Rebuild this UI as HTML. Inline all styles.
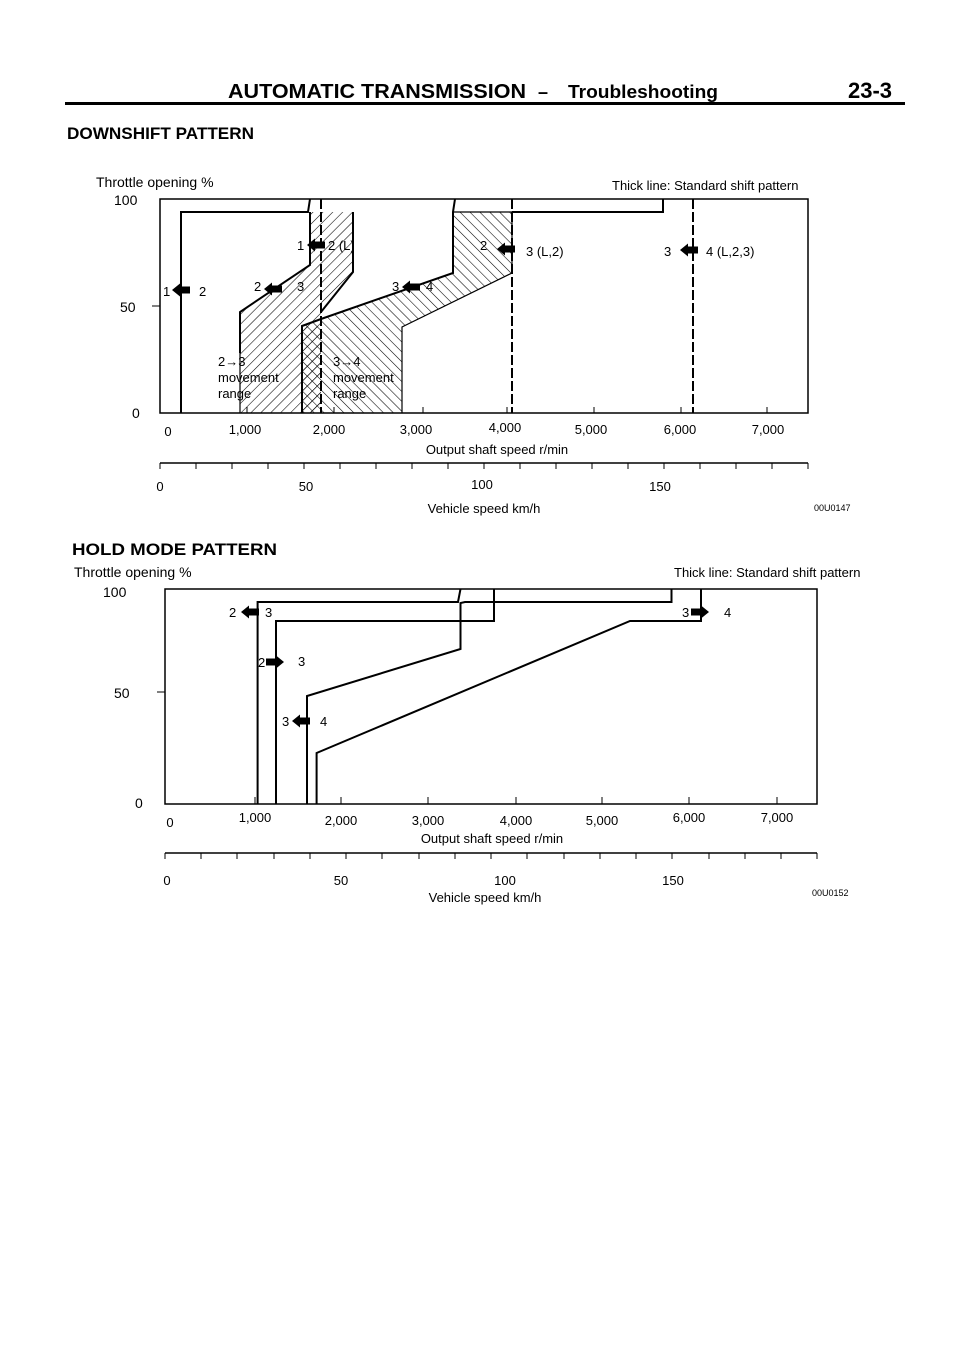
<!DOCTYPE html>
<html><head><meta charset="utf-8"><style>
html,body{margin:0;padding:0;background:#fff}
svg{display:block}
text{font-family:"Liberation Sans",sans-serif;fill:#000}
</style></head><body>
<svg width="960" height="1358" viewBox="0 0 960 1358" xmlns="http://www.w3.org/2000/svg">
<defs>
<pattern id="hf" width="7" height="7" patternUnits="userSpaceOnUse" patternTransform="rotate(45)"><line x1="0" y1="0" x2="0" y2="7" stroke="#000" stroke-width="1.1"/></pattern>
<pattern id="hb" width="7" height="7" patternUnits="userSpaceOnUse" patternTransform="rotate(-45)"><line x1="0" y1="0" x2="0" y2="7" stroke="#000" stroke-width="1.1"/></pattern>
<path id="la" d="M-9,0 L-1,-6.5 L-1,-3.5 L9,-3.5 L9,3.5 L-1,3.5 L-1,6.5 Z" fill="#000"/>
<path id="ra" d="M9,0 L1,-6.5 L1,-3.5 L-9,-3.5 L-9,3.5 L1,3.5 L1,6.5 Z" fill="#000"/>
</defs>
<!-- header -->
<text x="228" y="98" font-size="20" font-weight="bold" textLength="298" lengthAdjust="spacingAndGlyphs">AUTOMATIC TRANSMISSION</text>
<text x="538" y="98" font-size="18" font-weight="bold">–</text>
<text x="568" y="98" font-size="18" font-weight="bold" textLength="150" lengthAdjust="spacingAndGlyphs">Troubleshooting</text>
<text x="848" y="98" font-size="22" font-weight="bold">23-3</text>
<rect x="65" y="102" width="840" height="3" fill="#000"/>
<text x="67" y="139" font-size="17" font-weight="bold" textLength="187" lengthAdjust="spacingAndGlyphs">DOWNSHIFT PATTERN</text>

<!-- top chart -->
<text x="96" y="187" font-size="14">Throttle opening %</text>
<text x="612" y="190" font-size="13">Thick line: Standard shift pattern</text>
<text x="114" y="205" font-size="14">100</text>
<text x="120" y="312" font-size="14">50</text>
<text x="132" y="418" font-size="14">0</text>
<line x1="152" y1="306" x2="160" y2="306" stroke="#000"/>
<rect x="160" y="199" width="648" height="214" fill="none" stroke="#000" stroke-width="1.5"/>
<polygon points="310,212 353,212 353,272 321,312 321,413 240,413 240,312 310,265" fill="url(#hf)"/>
<polygon points="453,212 512,212 512,273 402,327 402,413 302,413 302,326 321,319 453,273" fill="url(#hb)"/>
<rect x="302" y="326" width="19" height="87" fill="url(#hf)"/>
<g fill="none" stroke="#000" stroke-width="2">
<polyline points="181,413 181,212 308,212 310,199"/>
<polyline points="310,212 310,265 240,312 240,353"/>
<polyline points="353,212 353,272 321,312"/>
<line x1="321" y1="199" x2="321" y2="413" stroke-dasharray="10,3"/>
<polyline points="302,413 302,326 321,319 453,273 453,212 455,199"/>
<polyline points="453,212 512,212 512,273 402,327 402,413" stroke-width="1.2"/>
<line x1="512" y1="199" x2="512" y2="413" stroke-dasharray="10,3"/>
<polyline points="512,212 663,212 663,199"/>
<line x1="693" y1="199" x2="693" y2="413" stroke-dasharray="10,3"/>
<line x1="240" y1="353" x2="240" y2="413" stroke-width="1.2"/>
</g>
<g font-size="13">
<text x="163" y="296">1</text><use href="#la" x="181" y="290"/><text x="199" y="296">2</text>
<text x="297" y="250">1</text><use href="#la" x="316" y="245"/><text x="328" y="250">2 (L)</text>
<text x="254" y="291">2</text><use href="#la" x="273" y="289"/><text x="297" y="291">3</text>
<text x="392" y="291">3</text><use href="#la" x="411" y="287"/><text x="426" y="291">4</text>
<text x="480" y="250">2</text><use href="#la" x="506" y="249"/><text x="526" y="256">3 (L,2)</text>
<text x="664" y="256">3</text><use href="#la" x="689" y="250"/><text x="706" y="256">4 (L,2,3)</text>
<text x="218" y="366">2→3</text><text x="218" y="382">movement</text><text x="218" y="398">range</text>
<text x="333" y="366">3→4</text><text x="333" y="382">movement</text><text x="333" y="398">range</text>
</g>
<g stroke="#000" stroke-width="1"><path d="M247 413v-6M334 413v-6M423 413v-6M507 413v-6M594 413v-6M681 413v-6M767 413v-6"/></g>
<g font-size="13" text-anchor="middle">
<text x="168" y="436">0</text><text x="245" y="434">1,000</text><text x="329" y="434">2,000</text><text x="416" y="434">3,000</text><text x="505" y="432">4,000</text><text x="591" y="434">5,000</text><text x="680" y="434">6,000</text><text x="768" y="434">7,000</text>
<text x="497" y="454">Output shaft speed r/min</text>
</g>
<line x1="160" y1="463" x2="808" y2="463" stroke="#000" stroke-width="1.5"/>
<g stroke="#000">
<path d="M160 463v6M196 463v6M232 463v6M268 463v6M304 463v6M340 463v6M376 463v6M412 463v6M448 463v6M484 463v6M520 463v6M556 463v6M592 463v6M628 463v6M664 463v6M700 463v6M736 463v6M772 463v6M808 463v6"/>
</g>
<g font-size="13" text-anchor="middle">
<text x="160" y="491">0</text><text x="306" y="491">50</text><text x="482" y="489">100</text><text x="660" y="491">150</text>
<text x="484" y="513">Vehicle speed km/h</text>
</g>
<text x="814" y="511" font-size="9">00U0147</text>

<!-- bottom chart -->
<text x="72" y="555" font-size="17" font-weight="bold" textLength="205" lengthAdjust="spacingAndGlyphs">HOLD MODE PATTERN</text>
<text x="74" y="577" font-size="14">Throttle opening %</text>
<text x="674" y="577" font-size="13">Thick line: Standard shift pattern</text>
<text x="103" y="597" font-size="14">100</text>
<text x="114" y="698" font-size="14">50</text>
<text x="135" y="808" font-size="14">0</text>
<line x1="157" y1="692" x2="165" y2="692" stroke="#000"/>
<rect x="165" y="589" width="652" height="215" fill="none" stroke="#000" stroke-width="1.5"/>
<g fill="none" stroke="#000" stroke-width="2">
<polyline points="257.6,804 257.6,602 458,602 460.5,589"/>
<polyline points="276,804 276,621 494,621 494,589"/>
<polyline points="307,804 307,696 460.5,649 460.5,603 465,602 671.5,602 671.5,589"/>
<polyline points="316.6,804 316.6,753 630,621 701,621 701,589"/>
</g>
<g font-size="13">
<text x="229" y="617">2</text><use href="#la" x="250" y="612"/><text x="265" y="617">3</text>
<text x="258" y="667">2</text><use href="#ra" x="275" y="662"/><text x="298" y="666">3</text>
<text x="282" y="726">3</text><use href="#la" x="301" y="721"/><text x="320" y="726">4</text>
<text x="682" y="617">3</text><use href="#ra" x="700" y="612"/><text x="724" y="617">4</text>
</g>
<g stroke="#000" stroke-width="1"><path d="M255 804v-7M341 804v-7M428 804v-7M516 804v-7M602 804v-7M689 804v-7M777 804v-7"/></g>
<g font-size="13" text-anchor="middle">
<text x="170" y="827">0</text><text x="255" y="822">1,000</text><text x="341" y="825">2,000</text><text x="428" y="825">3,000</text><text x="516" y="825">4,000</text><text x="602" y="825">5,000</text><text x="689" y="822">6,000</text><text x="777" y="822">7,000</text>
<text x="492" y="843">Output shaft speed r/min</text>
</g>
<line x1="165" y1="853" x2="817" y2="853" stroke="#000" stroke-width="1.5"/>
<g stroke="#000"><path d="M165 853v6M201 853v6M237 853v6M274 853v6M310 853v6M346 853v6M382 853v6M419 853v6M455 853v6M491 853v6M527 853v6M564 853v6M600 853v6M636 853v6M672 853v6M709 853v6M745 853v6M781 853v6M817 853v6"/></g>
<g font-size="13" text-anchor="middle">
<text x="167" y="885">0</text><text x="341" y="885">50</text><text x="505" y="885">100</text><text x="673" y="885">150</text>
<text x="485" y="902">Vehicle speed km/h</text>
</g>
<text x="812" y="896" font-size="9">00U0152</text>
</svg>
</body></html>
